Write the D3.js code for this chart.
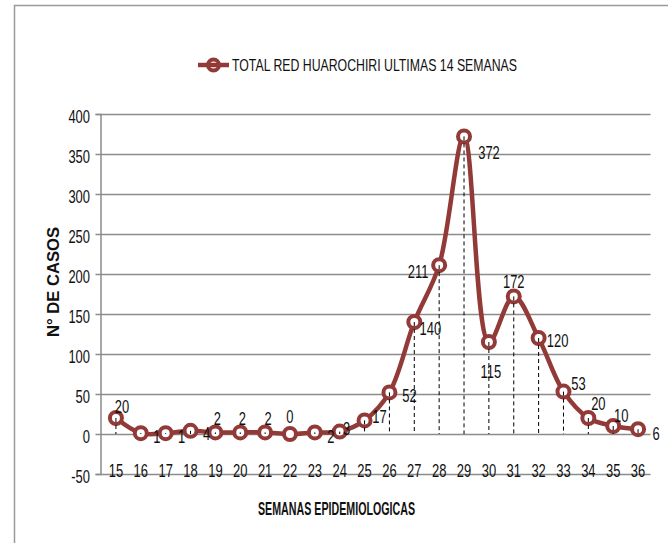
<!DOCTYPE html>
<html>
<head>
<meta charset="utf-8">
<script src="https://cdn.jsdelivr.net/npm/d3@7"></script>
<style>
  body { margin: 0; background: #fff; }
  svg text { font-family: "Liberation Sans", Arial, sans-serif; fill: #111; }
</style>
</head>
<body>
<div id="chart"></div>
<script>
var semanas = ["15","16","17","18","19","20","21","22","23","24","25","26","27","28","29","30","31","32","33","34","35","36"];
var casos = [20, 1, 1, 4, 2, 2, 2, 0, 2, 3, 17, 52, 140, 211, 372, 115, 172, 120, 53, 20, 10, 6];
var yTicks = [-50, 0, 50, 100, 150, 200, 250, 300, 350, 400];
var serieNombre = "TOTAL RED HUAROCHIRI ULTIMAS 14 SEMANAS";

// label offsets (dx, dy from the point), placed by hand like the original
var labelPos = [
  [6, -5], [16, 10], [16, 10], [16, 9], [2, -7], [2, -7], [3, -7], [0, -11],
  [16, 11], [7, 3], [15, 3], [20, 10], [16, 13], [-21, 13], [25, 23], [2, 36],
  [0, -8], [19, 9], [15, -2], [10, -8], [8, -4], [18, 11]
];

function lineChart() {
  var width = 668, height = 543;
  var color = "#923a38";
  var squeeze = 0.72;

  var svg = d3.select('#chart')
    .append('svg')
    .attr('width', width)
    .attr('height', height);

  // narrow numbers like the condensed font of the original
  function num(g, x, y, txt, anchor) {
    return g.append('text')
      .attr('transform', 'translate(' + x + ',' + y + ') scale(' + squeeze + ',1)')
      .attr('text-anchor', anchor || 'middle')
      .attr('font-size', 18)
      .text(txt);
  }

  // outer chart border
  svg.append('rect')
    .attr('x', 14.5).attr('y', 5.5)
    .attr('width', 700).attr('height', 600)
    .attr('fill', 'none')
    .attr('stroke', '#9a9a9a')
    .attr('stroke-width', 1.5);

  var x = d3.scaleBand().domain(semanas).range([103.5, 650.5]).padding(0);
  var y = d3.scaleLinear().domain([-50, 400]).range([474, 114]);
  var cx = function(d) { return x(d) + x.bandwidth() / 2; };

  // gridlines
  svg.append('g')
    .selectAll('line')
    .data(yTicks)
    .enter()
    .append('line')
    .attr('x1', 100).attr('x2', 650.5)
    .attr('y1', function(d) { return Math.round(y(d)) + 0.5; })
    .attr('y2', function(d) { return Math.round(y(d)) + 0.5; })
    .attr('stroke', '#8c8c8c')
    .attr('stroke-width', 1.5);

  // y axis
  var yAxis = svg.append('g')
    .attr('transform', 'translate(100.5,0)')
    .call(d3.axisLeft(y).tickValues(yTicks).tickSize(5).tickFormat(''));
  yAxis.select('.domain').attr('stroke', '#8c8c8c').attr('stroke-width', 1.5);
  yAxis.selectAll('.tick line').attr('stroke', '#8c8c8c').attr('stroke-width', 1.5);

  var yLab = svg.append('g');
  yTicks.forEach(function(t) { num(yLab, 90, y(t) + 8.5, String(t), 'end'); });

  // x tick labels
  var xLab = svg.append('g');
  semanas.forEach(function(s) { num(xLab, cx(s), 477, s); });

  var pts = semanas.map(function(s, i) { return {s: s, v: casos[i], i: i}; });

  var line = d3.line()
    .x(function(d) { return cx(d.s); })
    .y(function(d) { return y(d.v); })
    .curve(d3.curveCatmullRom.alpha(0.5));

  svg.append('path')
    .datum(pts)
    .attr('d', line)
    .attr('fill', 'none')
    .attr('stroke', color)
    .attr('stroke-width', 4.5)
    .attr('stroke-linejoin', 'round');

  svg.append('g')
    .selectAll('circle')
    .data(pts)
    .enter()
    .append('circle')
    .attr('cx', function(d) { return cx(d.s); })
    .attr('cy', function(d) { return y(d.v); })
    .attr('r', 6)
    .attr('fill', '#fff')
    .attr('stroke', color)
    .attr('stroke-width', 4);

  // drop lines
  svg.append('g')
    .selectAll('line')
    .data(pts)
    .enter()
    .append('line')
    .attr('x1', function(d) { return cx(d.s); })
    .attr('x2', function(d) { return cx(d.s); })
    .attr('y1', function(d) { return y(d.v); })
    .attr('y2', y(0))
    .attr('stroke', '#000')
    .attr('stroke-width', 1)
    .attr('stroke-dasharray', '4,3');

  // data labels
  var dl = svg.append('g');
  pts.forEach(function(d) {
    num(dl, cx(d.s) + labelPos[d.i][0], y(d.v) + labelPos[d.i][1], d.v);
  });

  // legend
  var lg = svg.append('g').attr('transform', 'translate(198,65)');
  lg.append('line').attr('x1', 0).attr('x2', 31).attr('y1', 0).attr('y2', 0)
    .attr('stroke', color).attr('stroke-width', 4.5);
  lg.append('circle').attr('cx', 15.5).attr('cy', 0).attr('r', 5.5)
    .attr('fill', 'none').attr('stroke', color).attr('stroke-width', 4);
  lg.append('text').attr('x', 34).attr('y', 6).attr('font-size', 17)
    .attr('textLength', 285).attr('lengthAdjust', 'spacingAndGlyphs')
    .text(serieNombre);

  // axis titles
  svg.append('text')
    .attr('transform', 'translate(58.5,282) rotate(-90)')
    .attr('text-anchor', 'middle')
    .attr('font-weight', 'bold')
    .attr('font-size', 16)
    .attr('textLength', 110).attr('lengthAdjust', 'spacingAndGlyphs')
    .text('N°  DE  CASOS');

  svg.append('text')
    .attr('x', 258).attr('y', 515)
    .attr('font-weight', 'bold')
    .attr('font-size', 18)
    .attr('textLength', 157).attr('lengthAdjust', 'spacingAndGlyphs')
    .text('SEMANAS  EPIDEMIOLOGICAS');
}

lineChart();
</script>
</body>
</html>
